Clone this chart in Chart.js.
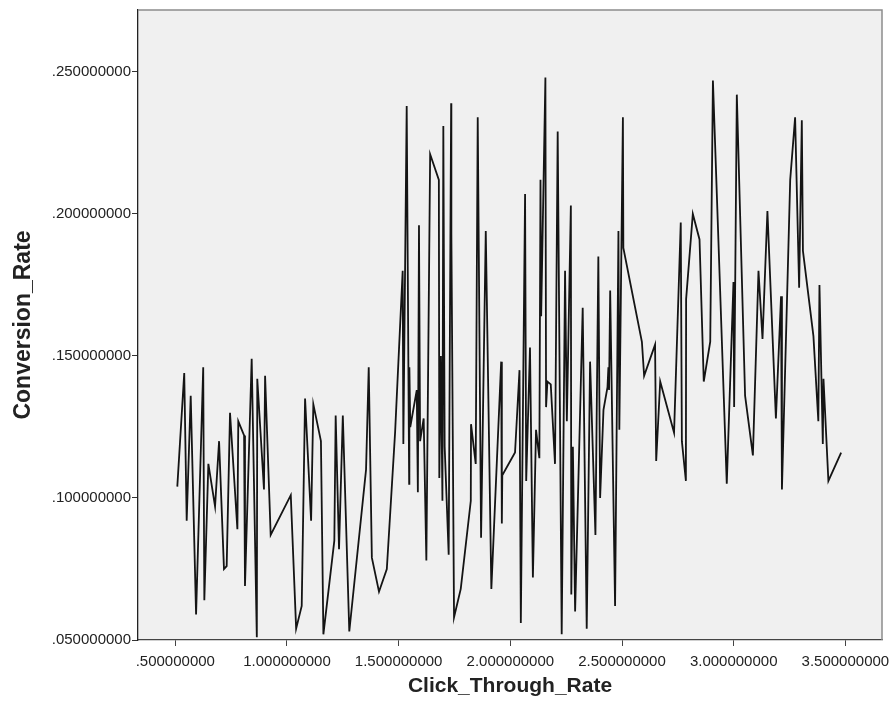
<!DOCTYPE html>
<html>
<head>
<meta charset="utf-8">
<script src="https://cdn.jsdelivr.net/npm/chart.js@4.4.1/dist/chart.umd.min.js"></script>
<style>
  html, body { margin: 0; padding: 0; background: #ffffff; }
</style>
</head>
<body>
<canvas id="chart" width="891" height="705"></canvas>
<script>
// ===============================
// DATOS
// ===============================
const clickThroughRate = [
  0.509, 0.540, 0.551, 0.569, 0.593, 0.625, 0.630, 0.648, 0.678, 0.696,
  0.718, 0.730, 0.745, 0.778, 0.782, 0.808, 0.812, 0.842, 0.865, 0.867,
  0.897, 0.902, 0.927, 1.017, 1.041, 1.066, 1.081, 1.108, 1.118, 1.152,
  1.163, 1.212, 1.218, 1.233, 1.250, 1.279, 1.354, 1.366, 1.380, 1.412,
  1.447, 1.484, 1.518, 1.521, 1.536, 1.547, 1.548, 1.552, 1.581, 1.586,
  1.591, 1.596, 1.612, 1.624, 1.641, 1.680, 1.682, 1.689, 1.696, 1.700,
  1.706, 1.724, 1.735, 1.736, 1.748, 1.778, 1.823, 1.824, 1.845, 1.854,
  1.869, 1.890, 1.915, 1.959, 1.962, 1.964, 2.021, 2.041, 2.047, 2.066,
  2.071, 2.088, 2.101, 2.115, 2.130, 2.135, 2.138, 2.157, 2.160, 2.166,
  2.181, 2.200, 2.212, 2.230, 2.245, 2.253, 2.271, 2.273, 2.280, 2.290,
  2.324, 2.342, 2.357, 2.381, 2.394, 2.402, 2.417, 2.435, 2.439, 2.442,
  2.447, 2.469, 2.484, 2.488, 2.504, 2.506, 2.589, 2.599, 2.648, 2.653,
  2.671, 2.733, 2.763, 2.768, 2.786, 2.787, 2.817, 2.847, 2.866, 2.895,
  2.907, 2.969, 2.999, 3.002, 3.014, 3.051, 3.086, 3.111, 3.129, 3.151,
  3.189, 3.212, 3.216, 3.253, 3.275, 3.293, 3.305, 3.310, 3.357, 3.379,
  3.384, 3.399, 3.402, 3.424, 3.481
];

const conversionRate = [
  0.104, 0.144, 0.092, 0.136, 0.059, 0.146, 0.064, 0.112, 0.097, 0.120,
  0.075, 0.076, 0.130, 0.089, 0.127, 0.122, 0.069, 0.149, 0.051, 0.142,
  0.103, 0.143, 0.087, 0.101, 0.054, 0.062, 0.135, 0.092, 0.133, 0.120,
  0.052, 0.085, 0.129, 0.082, 0.129, 0.053, 0.110, 0.146, 0.079, 0.067,
  0.075, 0.123, 0.180, 0.119, 0.238, 0.105, 0.146, 0.125, 0.138, 0.102,
  0.196, 0.120, 0.128, 0.078, 0.221, 0.212, 0.107, 0.150, 0.099, 0.231,
  0.118, 0.080, 0.239, 0.193, 0.058, 0.068, 0.099, 0.126, 0.112, 0.234,
  0.086, 0.194, 0.068, 0.148, 0.091, 0.108, 0.116, 0.145, 0.056, 0.207,
  0.106, 0.153, 0.072, 0.124, 0.114, 0.212, 0.164, 0.248, 0.132, 0.141,
  0.140, 0.112, 0.229, 0.052, 0.180, 0.127, 0.203, 0.066, 0.118, 0.060,
  0.167, 0.054, 0.148, 0.087, 0.185, 0.100, 0.131, 0.139, 0.146, 0.138,
  0.173, 0.062, 0.194, 0.124, 0.234, 0.188, 0.155, 0.143, 0.154, 0.113,
  0.141, 0.123, 0.197, 0.120, 0.106, 0.170, 0.200, 0.191, 0.141, 0.155,
  0.247, 0.105, 0.176, 0.132, 0.242, 0.136, 0.115, 0.180, 0.156, 0.201,
  0.128, 0.171, 0.103, 0.212, 0.234, 0.174, 0.233, 0.187, 0.157, 0.127,
  0.175, 0.119, 0.142, 0.106, 0.116
];

const xTicks = [0.5, 1.0, 1.5, 2.0, 2.5, 3.0, 3.5];
const yTicks = [0.05, 0.10, 0.15, 0.20, 0.25];


// ===============================
// ETIQUETAS ESTILO SPSS (.500000000)
// ===============================
function etiquetaSpss(v) {
    const s = Number(v).toFixed(9);
    return s.startsWith("0") ? s.slice(1) : s;
}


// ===============================
// FONDO GRIS Y BORDES DEL ÁREA
// ===============================
const fondoPlot = {
    id: "fondoPlot",
    beforeDraw(chart) {
        const { ctx, chartArea: a } = chart;
        ctx.save();
        ctx.fillStyle = "#f0f0f0";
        ctx.fillRect(a.left, a.top, a.right - a.left, a.bottom - a.top);
        ctx.restore();
    },
    afterDraw(chart) {
        const { ctx, chartArea: a } = chart;
        ctx.save();
        ctx.strokeStyle = "#8c8c8c";
        ctx.lineWidth = 1.5;
        ctx.beginPath();
        ctx.moveTo(a.left, a.top);
        ctx.lineTo(a.right, a.top);
        ctx.lineTo(a.right, a.bottom);
        ctx.stroke();
        ctx.restore();
    }
};

const puntos = clickThroughRate.map((x, i) => ({ x: x, y: conversionRate[i] }));

Chart.defaults.font.family = "'Liberation Sans', Arial, sans-serif";
Chart.defaults.color = "#222";

new Chart(document.getElementById("chart"), {
    type: "scatter",
    data: {
        datasets: [{
            data: puntos,
            showLine: true,
            borderColor: "#141414",
            borderWidth: 1.8,
            pointRadius: 0,
            tension: 0
        }]
    },
    options: {
        responsive: false,
        animation: false,
        devicePixelRatio: 1,
        layout: { padding: { top: 10, right: 9, left: 0, bottom: 0 } },
        plugins: {
            legend: { display: false },
            tooltip: { enabled: false }
        },
        scales: {
            x: {
                type: "linear",
                min: 0.333,
                max: 3.664,
                afterBuildTicks: s => { s.ticks = xTicks.map(v => ({ value: v })); },
                afterFit: s => {
                    s.height = 65;
                    s.paddingLeft = 0;
                    s.paddingRight = 0;
                },
                ticks: {
                    callback: v => etiquetaSpss(v),
                    font: { size: 15 },
                    color: "#222",
                    padding: 7,
                    maxRotation: 0,
                    autoSkip: false
                },
                grid: { drawOnChartArea: false, drawTicks: true, tickLength: 6, color: "#444" },
                border: { color: "#444", width: 1.3 },
                title: {
                    display: true,
                    text: "Click_Through_Rate",
                    font: { size: 21, weight: "bold" },
                    color: "#222",
                    padding: { top: 0, bottom: 6 }
                }
            },
            y: {
                type: "linear",
                min: 0.05,
                max: 0.2718,
                afterBuildTicks: s => { s.ticks = yTicks.map(v => ({ value: v })); },
                afterFit: s => {
                    s.width = 138;
                    s.paddingTop = 0;
                    s.paddingBottom = 0;
                },
                ticks: {
                    callback: v => etiquetaSpss(v),
                    font: { size: 15 },
                    color: "#222",
                    padding: 1,
                    autoSkip: false
                },
                grid: { drawOnChartArea: false, drawTicks: true, tickLength: 6, color: "#333" },
                border: { color: "#222", width: 1.3 },
                title: {
                    display: true,
                    text: "Conversion_Rate",
                    font: { size: 23, weight: "bold" },
                    color: "#222",
                    padding: { top: 10, bottom: 0 }
                }
            }
        }
    },
    plugins: [fondoPlot]
});
</script>
</body>
</html>
